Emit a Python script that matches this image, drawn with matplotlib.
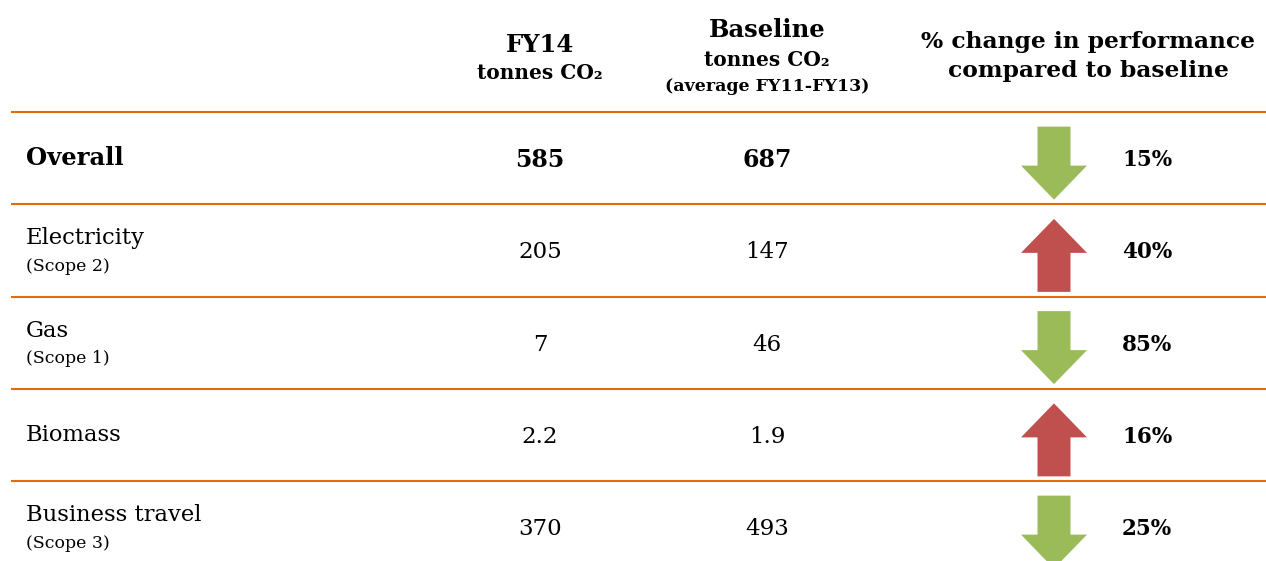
import matplotlib
matplotlib.use("Agg")
import matplotlib.pyplot as plt
from matplotlib.patches import Polygon

# table content
categories = ["Overall", "Electricity", "Gas", "Biomass", "Business travel"]
scopes = ["", "(Scope 2)", "(Scope 1)", "", "(Scope 3)"]
fy14 = [585, 205, 7, 2.2, 370]
baseline = [687, 147, 46, 1.9, 493]
pct_change = [15, 40, 85, 16, 25]

ORANGE = "#E36C0A"
GREEN = "#9BBB59"
RED = "#C0504D"
FONT = ["DejaVu Serif", "DejaVu Sans"]

W, H = 1266, 561
fig = plt.figure(figsize=(W / 100, H / 100), dpi=100)
ax = fig.add_axes([0, 0, 1, 1])
ax.set_xlim(0, W)
ax.set_ylim(H, 0)
ax.axis("off")

col_fy14 = 540
col_base = 767
col_arrow = 1054
col_pct = 1122
top = 112
row_h = 92.25

#Header
ax.text(col_fy14, 45, "FY14", ha="center", va="center", fontsize=17.5, fontweight="bold", family=FONT)
ax.text(col_fy14, 73, "tonnes CO₂", ha="center", va="center", fontsize=14.5, fontweight="bold", family=FONT)
ax.text(col_base, 30, "Baseline", ha="center", va="center", fontsize=17.5, fontweight="bold", family=FONT)
ax.text(col_base, 60, "tonnes CO₂", ha="center", va="center", fontsize=14.5, fontweight="bold", family=FONT)
ax.text(col_base, 86, "(average FY11-FY13)", ha="center", va="center", fontsize=12.5, fontweight="bold", family=FONT)
ax.text(1088, 42, "% change in performance", ha="center", va="center", fontsize=16.8, fontweight="bold", family=FONT)
ax.text(1088, 71, "compared to baseline", ha="center", va="center", fontsize=16.8, fontweight="bold", family=FONT)

#Row separators
for i in range(len(categories)):
    y = top + i * row_h
    ax.plot([11, W], [y, y], color=ORANGE, linewidth=1.5, solid_capstyle="butt")

#Rows
for i, name in enumerate(categories):
    yc = top + row_h * (i + 0.5)
    bold = "bold" if i == 0 else "normal"
    if scopes[i]:
        ax.text(26, yc - 12, name, ha="left", va="center", fontsize=16.3, family=FONT)
        ax.text(26, yc + 16, scopes[i], ha="left", va="center", fontsize=12.5, family=FONT)
    elif i == 0:
        ax.text(26, yc, name, ha="left", va="center", fontsize=17.5, fontweight=bold, family=FONT)
    else:
        ax.text(26, yc, name, ha="left", va="center", fontsize=16.3, family=FONT)
    vsize = 17 if i == 0 else 16.5
    ax.text(col_fy14, yc + 2, f"{fy14[i]:g}", ha="center", va="center", fontsize=vsize, fontweight=bold, family=FONT)
    ax.text(col_base, yc + 2, f"{baseline[i]:g}", ha="center", va="center", fontsize=vsize, fontweight=bold, family=FONT)
    ax.text(col_pct, yc + 2, f"{pct_change[i]}%", ha="left", va="center", fontsize=15.5, fontweight="bold", family=FONT)

    # arrow: up when FY14 is above the baseline
    up = fy14[i] > baseline[i]
    ya = yc + 5
    half, head, hw, sw = 36.5, 34, 33, 16.5
    s = -1 if up else 1
    tip = ya + s * half
    tail = ya - s * half
    base = tip - s * head
    pts = [(col_arrow - sw, tail), (col_arrow + sw, tail), (col_arrow + sw, base),
           (col_arrow + hw, base), (col_arrow, tip), (col_arrow - hw, base), (col_arrow - sw, base)]
    ax.add_patch(Polygon(pts, closed=True, facecolor=RED if up else GREEN, edgecolor="none"))

fig.savefig("out.png", dpi=100)
